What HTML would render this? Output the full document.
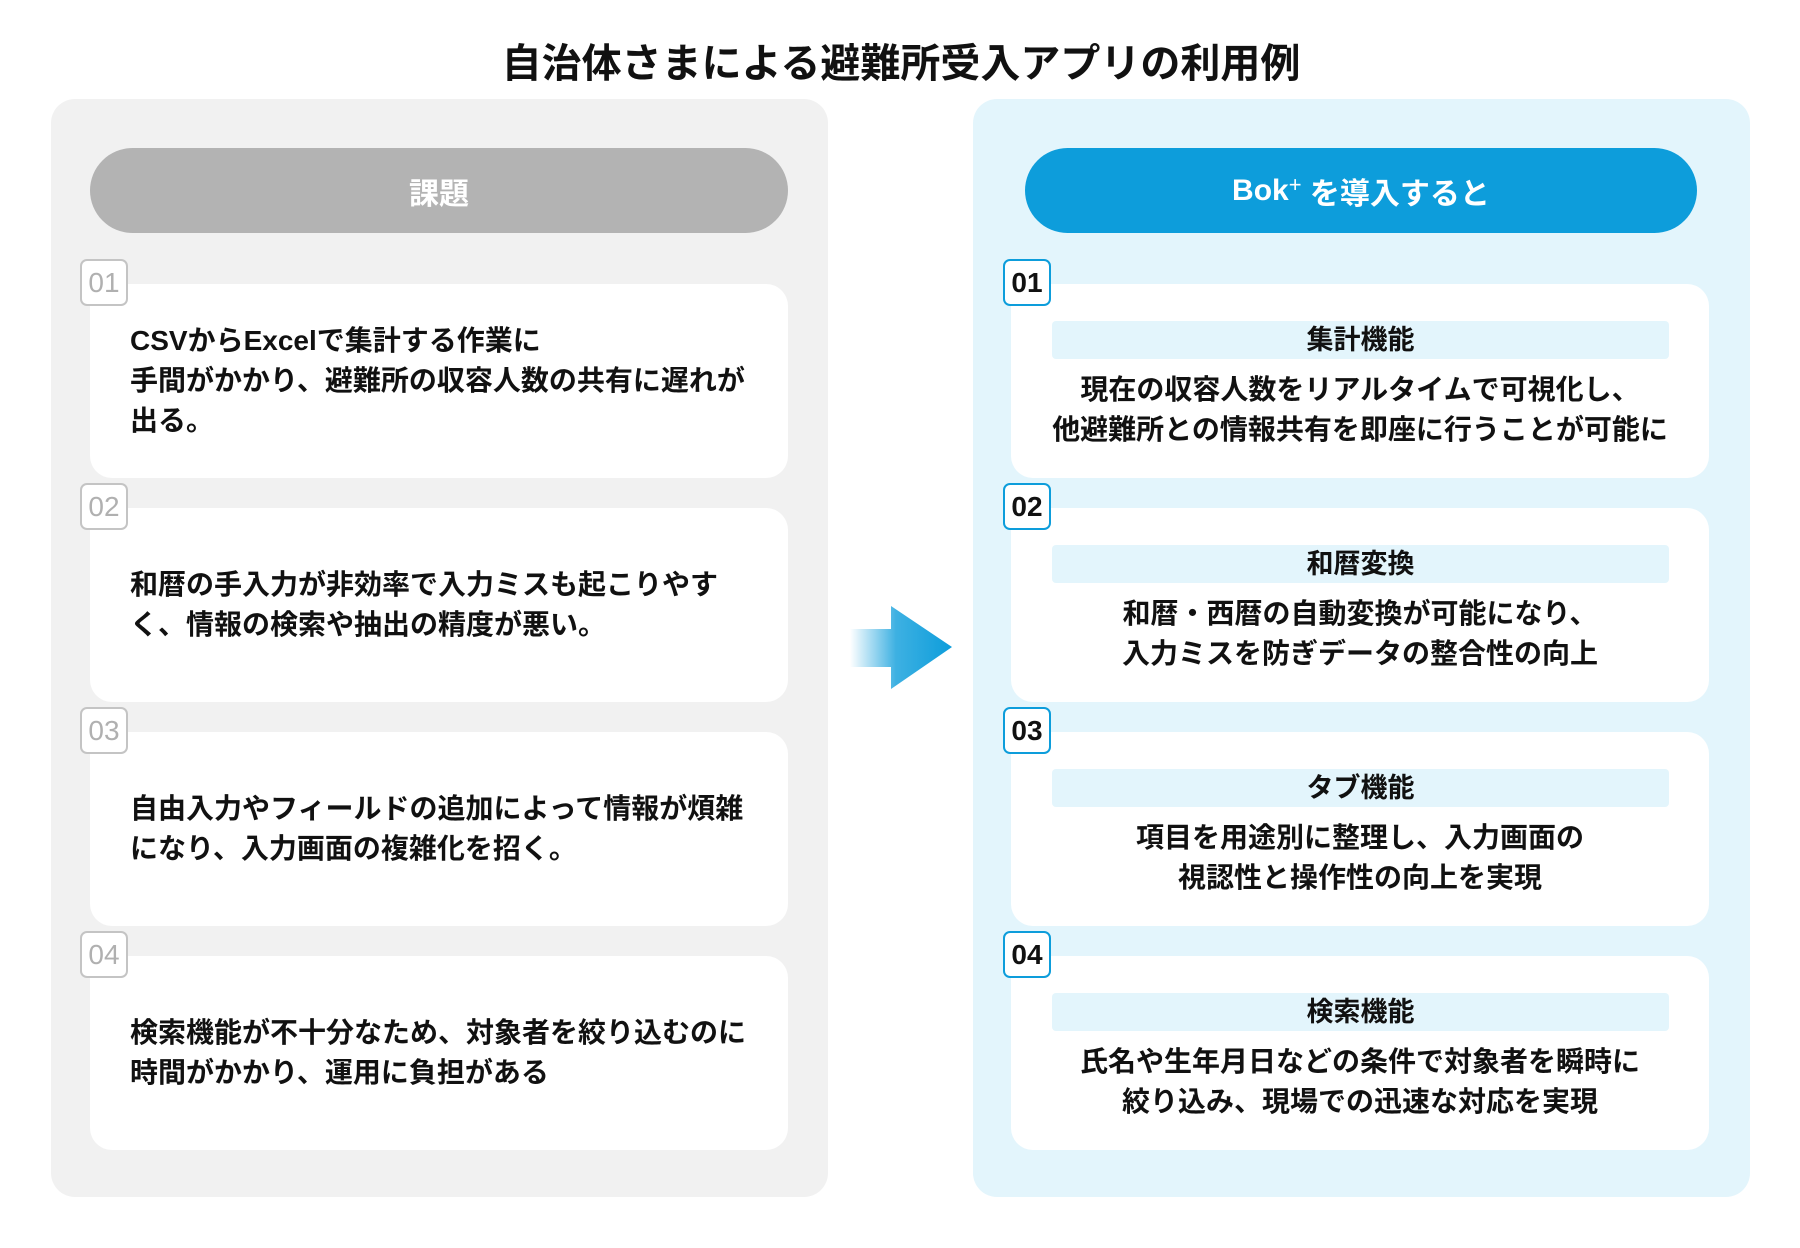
<!DOCTYPE html>
<html><head><meta charset="utf-8"><style>
*{margin:0;padding:0;box-sizing:border-box}
body{width:1800px;height:1248px;background:#fff;font-family:"Liberation Sans","Noto Sans CJK JP",sans-serif;position:relative;overflow:hidden;color:#111}
.abs{position:absolute}
.title{left:0;width:1802px;top:37px;text-align:center;font-size:40px;font-weight:700;line-height:54px}
.panel{top:99px;height:1098px;width:777px;border-radius:24px}
.pill{top:148px;height:85px;border-radius:43px;color:#fff;font-size:30px;font-weight:700;display:flex;align-items:center;justify-content:center}
.card{background:#fff;border-radius:22px;height:194px}
.lcard{left:90px;width:698px;display:flex;align-items:center;padding-left:40px;font-size:28px;font-weight:700;line-height:40px;white-space:nowrap}
.rcard{left:1011px;width:698px}
.badge{width:48px;height:47px;border-radius:7px;background:#fff;font-size:28px;font-family:"Liberation Sans",sans-serif;display:flex;align-items:center;justify-content:center}
.lb{left:80px;border:2px solid #c4c4c4;color:#b0b0b0}
.rb{left:1003px;border:2px solid #0d9ddb;color:#111;font-weight:700}
.sub{position:absolute;left:41px;width:617px;top:37px;height:38px;background:#e3f5fc;border-radius:4px;text-align:center;font-size:27px;font-weight:700;line-height:38px}
.body{position:absolute;left:0;width:698px;top:86px;text-align:center;font-size:28px;font-weight:700;line-height:40px;white-space:nowrap}
</style></head><body>
<div class="abs title">自治体さまによる避難所受入アプリの利用例</div>
<div class="abs panel" style="left:51px;background:#f1f1f1"></div>
<div class="abs panel" style="left:973px;background:#e3f5fc"></div>
<div class="abs pill" style="left:90px;width:698px;background:#b3b3b3">課題</div>
<div class="abs pill" style="left:1025px;width:672px;background:#0d9ddb">Bok<sup style="font-size:22px;font-weight:400;position:relative;top:-6px">+</sup>&nbsp;を導入すると</div>

<div class="abs card lcard" style="top:284px">CSVからExcelで集計する作業に<br>手間がかかり、避難所の収容人数の共有に遅れが<br>出る。</div>
<div class="abs card lcard" style="top:508px">和暦の手入力が非効率で入力ミスも起こりやす<br>く、情報の検索や抽出の精度が悪い。</div>
<div class="abs card lcard" style="top:732px">自由入力やフィールドの追加によって情報が煩雑<br>になり、入力画面の複雑化を招く。</div>
<div class="abs card lcard" style="top:956px">検索機能が不十分なため、対象者を絞り込むのに<br>時間がかかり、運用に負担がある</div>
<div class="abs badge lb" style="top:259px">01</div>
<div class="abs badge lb" style="top:483px">02</div>
<div class="abs badge lb" style="top:707px">03</div>
<div class="abs badge lb" style="top:931px">04</div>

<div class="abs card rcard" style="top:284px"><div class="sub">集計機能</div><div class="body">現在の収容人数をリアルタイムで可視化し、<br>他避難所との情報共有を即座に行うことが可能に</div></div>
<div class="abs card rcard" style="top:508px"><div class="sub">和暦変換</div><div class="body">和暦・西暦の自動変換が可能になり、<br>入力ミスを防ぎデータの整合性の向上</div></div>
<div class="abs card rcard" style="top:732px"><div class="sub">タブ機能</div><div class="body">項目を用途別に整理し、入力画面の<br>視認性と操作性の向上を実現</div></div>
<div class="abs card rcard" style="top:956px"><div class="sub">検索機能</div><div class="body">氏名や生年月日などの条件で対象者を瞬時に<br>絞り込み、現場での迅速な対応を実現</div></div>
<div class="abs badge rb" style="top:259px">01</div>
<div class="abs badge rb" style="top:483px">02</div>
<div class="abs badge rb" style="top:707px">03</div>
<div class="abs badge rb" style="top:931px">04</div>

<svg class="abs" style="left:848px;top:604px" width="108" height="90">
<defs><linearGradient id="g" x1="0" x2="1"><stop offset="0" stop-color="#0d9ddb" stop-opacity="0"/><stop offset="0.45" stop-color="#0d9ddb" stop-opacity="0.8"/><stop offset="1" stop-color="#0d9ddb"/></linearGradient></defs>
<path d="M2 25 H43 V2 L104 43 L43 85 V63 H2 Z" fill="url(#g)"/>
</svg>
</body></html>
